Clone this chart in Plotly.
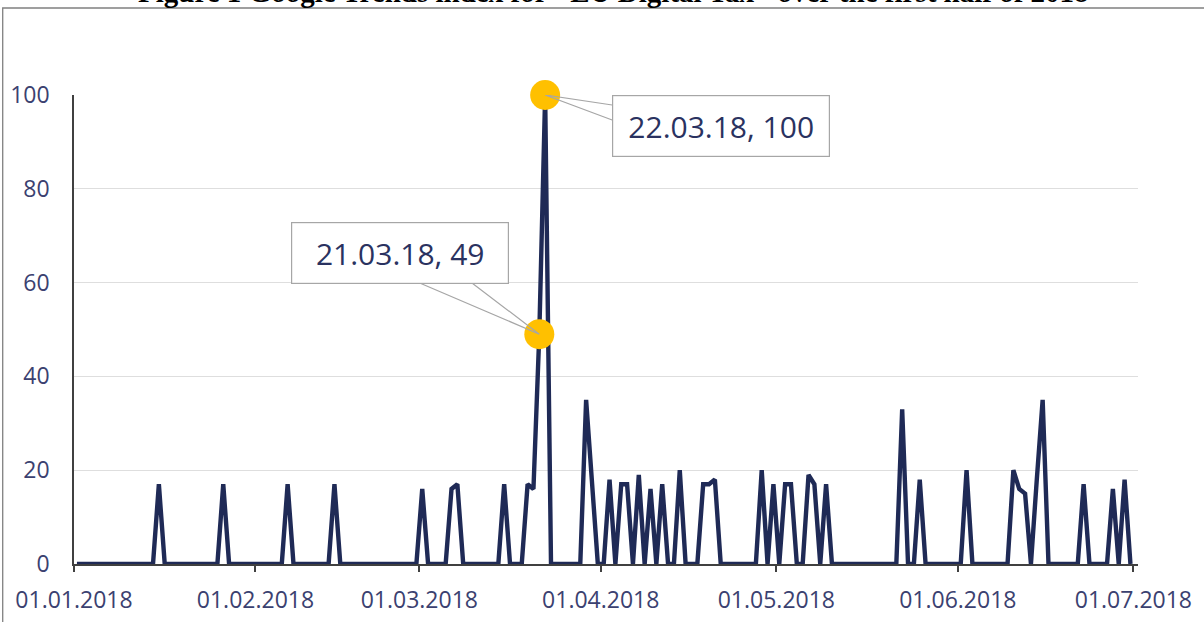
import pandas as pd
import plotly.graph_objects as go

# ---- data: Google Trends daily index, 1 Jan 2018 - 30 Jun 2018 ----
jan = [0,0,0,0,0,0,0,0,0,0, 0,0,0,0,17,0,0,0,0,0, 0,0,0,0,0,17,0,0,0,0, 0]
feb = [0,0,0,0,0,17,0,0,0,0, 0,0,0,17,0,0,0,0,0,0, 0,0,0,0,0,0,0,0]
mar = [16,0,0,0,0,16,17,0,0,0, 0,0,0,0,17,0,0,0,17,16, 49,100,0,0,0,0,0,0,35,18, 0]
apr = [0,18,0,17,17,0,19,0,16,0, 17,0,0,20,0,0,0,17,17,18, 0,0,0,0,0,0,0,20,0,17]
may = [0,17,17,0,0,19,17,0,17,0, 0,0,0,0,0,0,0,0,0,0, 0,33,0,0,18,0,0,0,0,0, 0]
jun = [0,20,0,0,0,0,0,0,0,20, 16,15,0,18,35,0,0,0,0,0, 0,17,0,0,0,0,16,0,18,0]

values = jan + feb + mar + apr + may + jun
dates = pd.date_range("2018-01-01", periods=len(values), freq="D")

highlight_dates = ["2018-03-21", "2018-03-22"]
highlight_labels = ["21.03.18, 49", "22.03.18, 100"]

title_text = 'Figure 1 Google Trends index for "EU Digital Tax" over the first half of 2018'

# ---- styling ----
NAVY = "#1f2a56"
TXT = "#3b4170"
GOLD = "#FFC000"
FONT = "Open Sans"

series = pd.Series(values, index=dates)
hl_x = [pd.Timestamp(d) + pd.Timedelta(hours=12) for d in highlight_dates]
hl_y = [series[pd.Timestamp(d)] for d in highlight_dates]

fig = go.Figure()
fig.add_trace(go.Scatter(
    x=dates, y=values, mode="lines",
    xperiod=86400000, xperiodalignment="middle",
    line=dict(color=NAVY, width=4.4), hoverinfo="skip",
))
fig.add_trace(go.Scatter(
    x=hl_x, y=hl_y, mode="markers", cliponaxis=False,
    marker=dict(color=GOLD, size=30, line=dict(width=0)), hoverinfo="skip",
))

# callout boxes
box_offsets = [(-139, -81), (176, 31)]
wedges = ["M0,0 L-119,51 M0,0 L-67,51", "M0,0 L67,-10 M0,0 L67,-25"]
for x, y, lab, (ax, ay), wpath in zip(hl_x, hl_y, highlight_labels, box_offsets, wedges):
    fig.add_annotation(
        x=x, y=y, xref="x", yref="y", text=lab,
        showarrow=True, ax=ax, ay=ay, axref="pixel", ayref="pixel",
        arrowcolor="rgba(0,0,0,0)", arrowwidth=0.1,
        width=216, height=60, borderpad=0, borderwidth=1.2,
        bordercolor="#a6a6a6", bgcolor="white",
        font=dict(family=FONT, size=30, color="#2a3260"),
    )
    fig.add_shape(
        type="path", xref="x", yref="y", xsizemode="pixel", ysizemode="pixel",
        xanchor=x, yanchor=y, path=wpath, layer="above",
        line=dict(color="#a6a6a6", width=1.2),
    )

# outer frame and title
fig.add_shape(type="rect", xref="paper", yref="paper",
              x0=-0.067, x1=1.3, y0=-0.5, y1=1.1855,
              line=dict(color="#808080", width=1.3), layer="below")
fig.add_annotation(text="<b>" + title_text + "</b>", xref="paper", yref="paper",
                   x=0.5066, y=1.181, xanchor="center", yanchor="bottom",
                   showarrow=False, font=dict(family="Liberation Serif", size=29, color="black"))

fig.update_xaxes(
    type="date", range=["2018-01-01", "2018-07-01 19:00"], automargin=False,
    tick0="2018-01-01", dtick="M1", tickformat="%d.%m.%Y",
    ticks="outside", ticklen=6, tickwidth=1.5, tickcolor="#404040",
    showline=True, linecolor="#404040", linewidth=1.5,
    showgrid=False, zeroline=False,
    tickfont=dict(family=FONT, size=23, color=TXT), ticklabelstandoff=9,
)
fig.update_yaxes(
    range=[0, 100], dtick=20, tick0=0, automargin=False,
    showline=True, linecolor="#404040", linewidth=1.5,
    showgrid=True, gridcolor="#dedede", gridwidth=1, zeroline=False,
    ticks="", tickfont=dict(family=FONT, size=23, color=TXT), ticklabelstandoff=18,
)
fig.update_layout(
    width=1204, height=622, margin=dict(l=74, r=66, t=95, b=58),
    paper_bgcolor="white", plot_bgcolor="white", showlegend=False,
)
fig.write_html("out.html", config={"displayModeBar": False},
               post_script="document.body.style.margin='0';document.body.style.overflow='hidden';")
